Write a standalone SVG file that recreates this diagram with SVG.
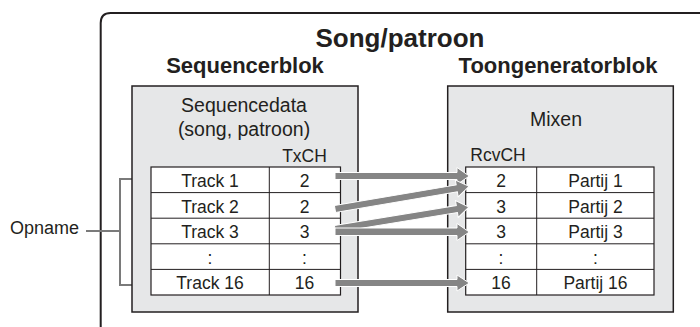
<svg xmlns="http://www.w3.org/2000/svg" width="700" height="327" viewBox="0 0 700 327">
<defs>
<style>
text{font-family:"Liberation Sans",Arial,Helvetica,sans-serif;fill:#231f20}
.title{font-size:26px;font-weight:bold}
.head{font-size:22px;font-weight:bold}
.lbl{font-size:19.5px}
.cell{font-size:17.5px}
.ch{font-size:17.5px}
.box{fill:#e6e7e8;stroke:#231f20;stroke-width:1.5}
.tbl{fill:#ffffff;stroke:#231f20;stroke-width:1.2}
.grid{stroke:#231f20;stroke-width:1;fill:none}
.arrow{fill:#858585;stroke:#ffffff;stroke-width:1}
.brk{fill:none;stroke:#7a7a7a;stroke-width:2}
</style>
<path id="a134" d="M0,-3.5 H122 V-8 L134,0 L122,8 V3.5 H0 Z"/>
</defs>
<rect width="700" height="327" fill="#ffffff"/>
<g id="frame">
<path d="M100.7,327 V23 Q100.7,13 110.7,13 H700" fill="none" stroke="#231f20" stroke-width="2"/>
<text class="title" x="400" y="46.5" text-anchor="middle">Song/patroon</text>
</g>
<g id="opname">
<text x="10" y="234" style="font-size:18px">Opname</text>
<path class="brk" d="M86,231 H120 M146,179 H120 V285 H146"/>
</g>
<g id="sequencer">
<text class="head" x="245" y="73" text-anchor="middle">Sequencerblok</text>
<rect class="box" x="132" y="86" width="226" height="226"/>
<text class="lbl" x="244" y="112" text-anchor="middle">Sequencedata</text>
<text class="lbl" x="244" y="136" text-anchor="middle">(song, patroon)</text>
<text class="ch" x="304.5" y="161.5" text-anchor="middle">TxCH</text>
<rect class="tbl" x="151" y="167" width="189.5" height="128"/>
<path class="grid" d="M151,192.6 H340.5 M151,218.2 H340.5 M151,243.8 H340.5 M151,269.4 H340.5 M269.3,167 V295"/>
<g class="cell" text-anchor="middle">
<text x="210" y="187">Track 1</text><text x="304.5" y="187">2</text>
<text x="210" y="212.5">Track 2</text><text x="304.5" y="212.5">2</text>
<text x="210" y="238">Track 3</text><text x="304.5" y="238">3</text>
<text x="210" y="263.5">:</text><text x="304.5" y="263.5">:</text>
<text x="210" y="289">Track 16</text><text x="304.5" y="289">16</text>
</g>
</g>
<g id="toongenerator">
<text class="head" x="558" y="73" text-anchor="middle">Toongeneratorblok</text>
<rect class="box" x="447.7" y="86" width="225.6" height="226"/>
<text class="lbl" x="556" y="126" text-anchor="middle">Mixen</text>
<text class="ch" x="498" y="160.5" text-anchor="middle">RcvCH</text>
<rect class="tbl" x="465.7" y="167" width="188.3" height="128"/>
<path class="grid" d="M465.7,192.6 H654 M465.7,218.2 H654 M465.7,243.8 H654 M465.7,269.4 H654 M536.7,167 V295"/>
<g class="cell" text-anchor="middle">
<text x="501" y="187">2</text><text x="595.5" y="187">Partij 1</text>
<text x="501" y="212.5">3</text><text x="595.5" y="212.5">Partij 2</text>
<text x="501" y="238">3</text><text x="595.5" y="238">Partij 3</text>
<text x="501" y="263.5">:</text><text x="595.5" y="263.5">:</text>
<text x="501" y="289">16</text><text x="595.5" y="289">Partij 16</text>
</g>
</g>
<g id="connectors">
<path class="arrow" d="M335,172.5 H457 V167.5 L469.3,176 L457,184.5 V179.5 H335 Z"/>
<path class="arrow" d="M0,-3.5 H123.5 V-8.5 L136,0 L123.5,8.5 V3.5 H0 Z" transform="translate(335,209) rotate(-9.6)"/>
<path class="arrow" d="M0,-3.5 H123.5 V-8.5 L135.6,0 L123.5,8.5 V3.5 H0 Z" transform="translate(335,229) rotate(-9.3)"/>
<path class="arrow" d="M335,228 H457 V223.5 L469.3,232 L457,240.5 V235.5 H335 Z"/>
<path class="arrow" d="M335,279.5 H457 V275 L469.3,283 L457,291 V286.5 H335 Z"/>
</g>
</svg>
